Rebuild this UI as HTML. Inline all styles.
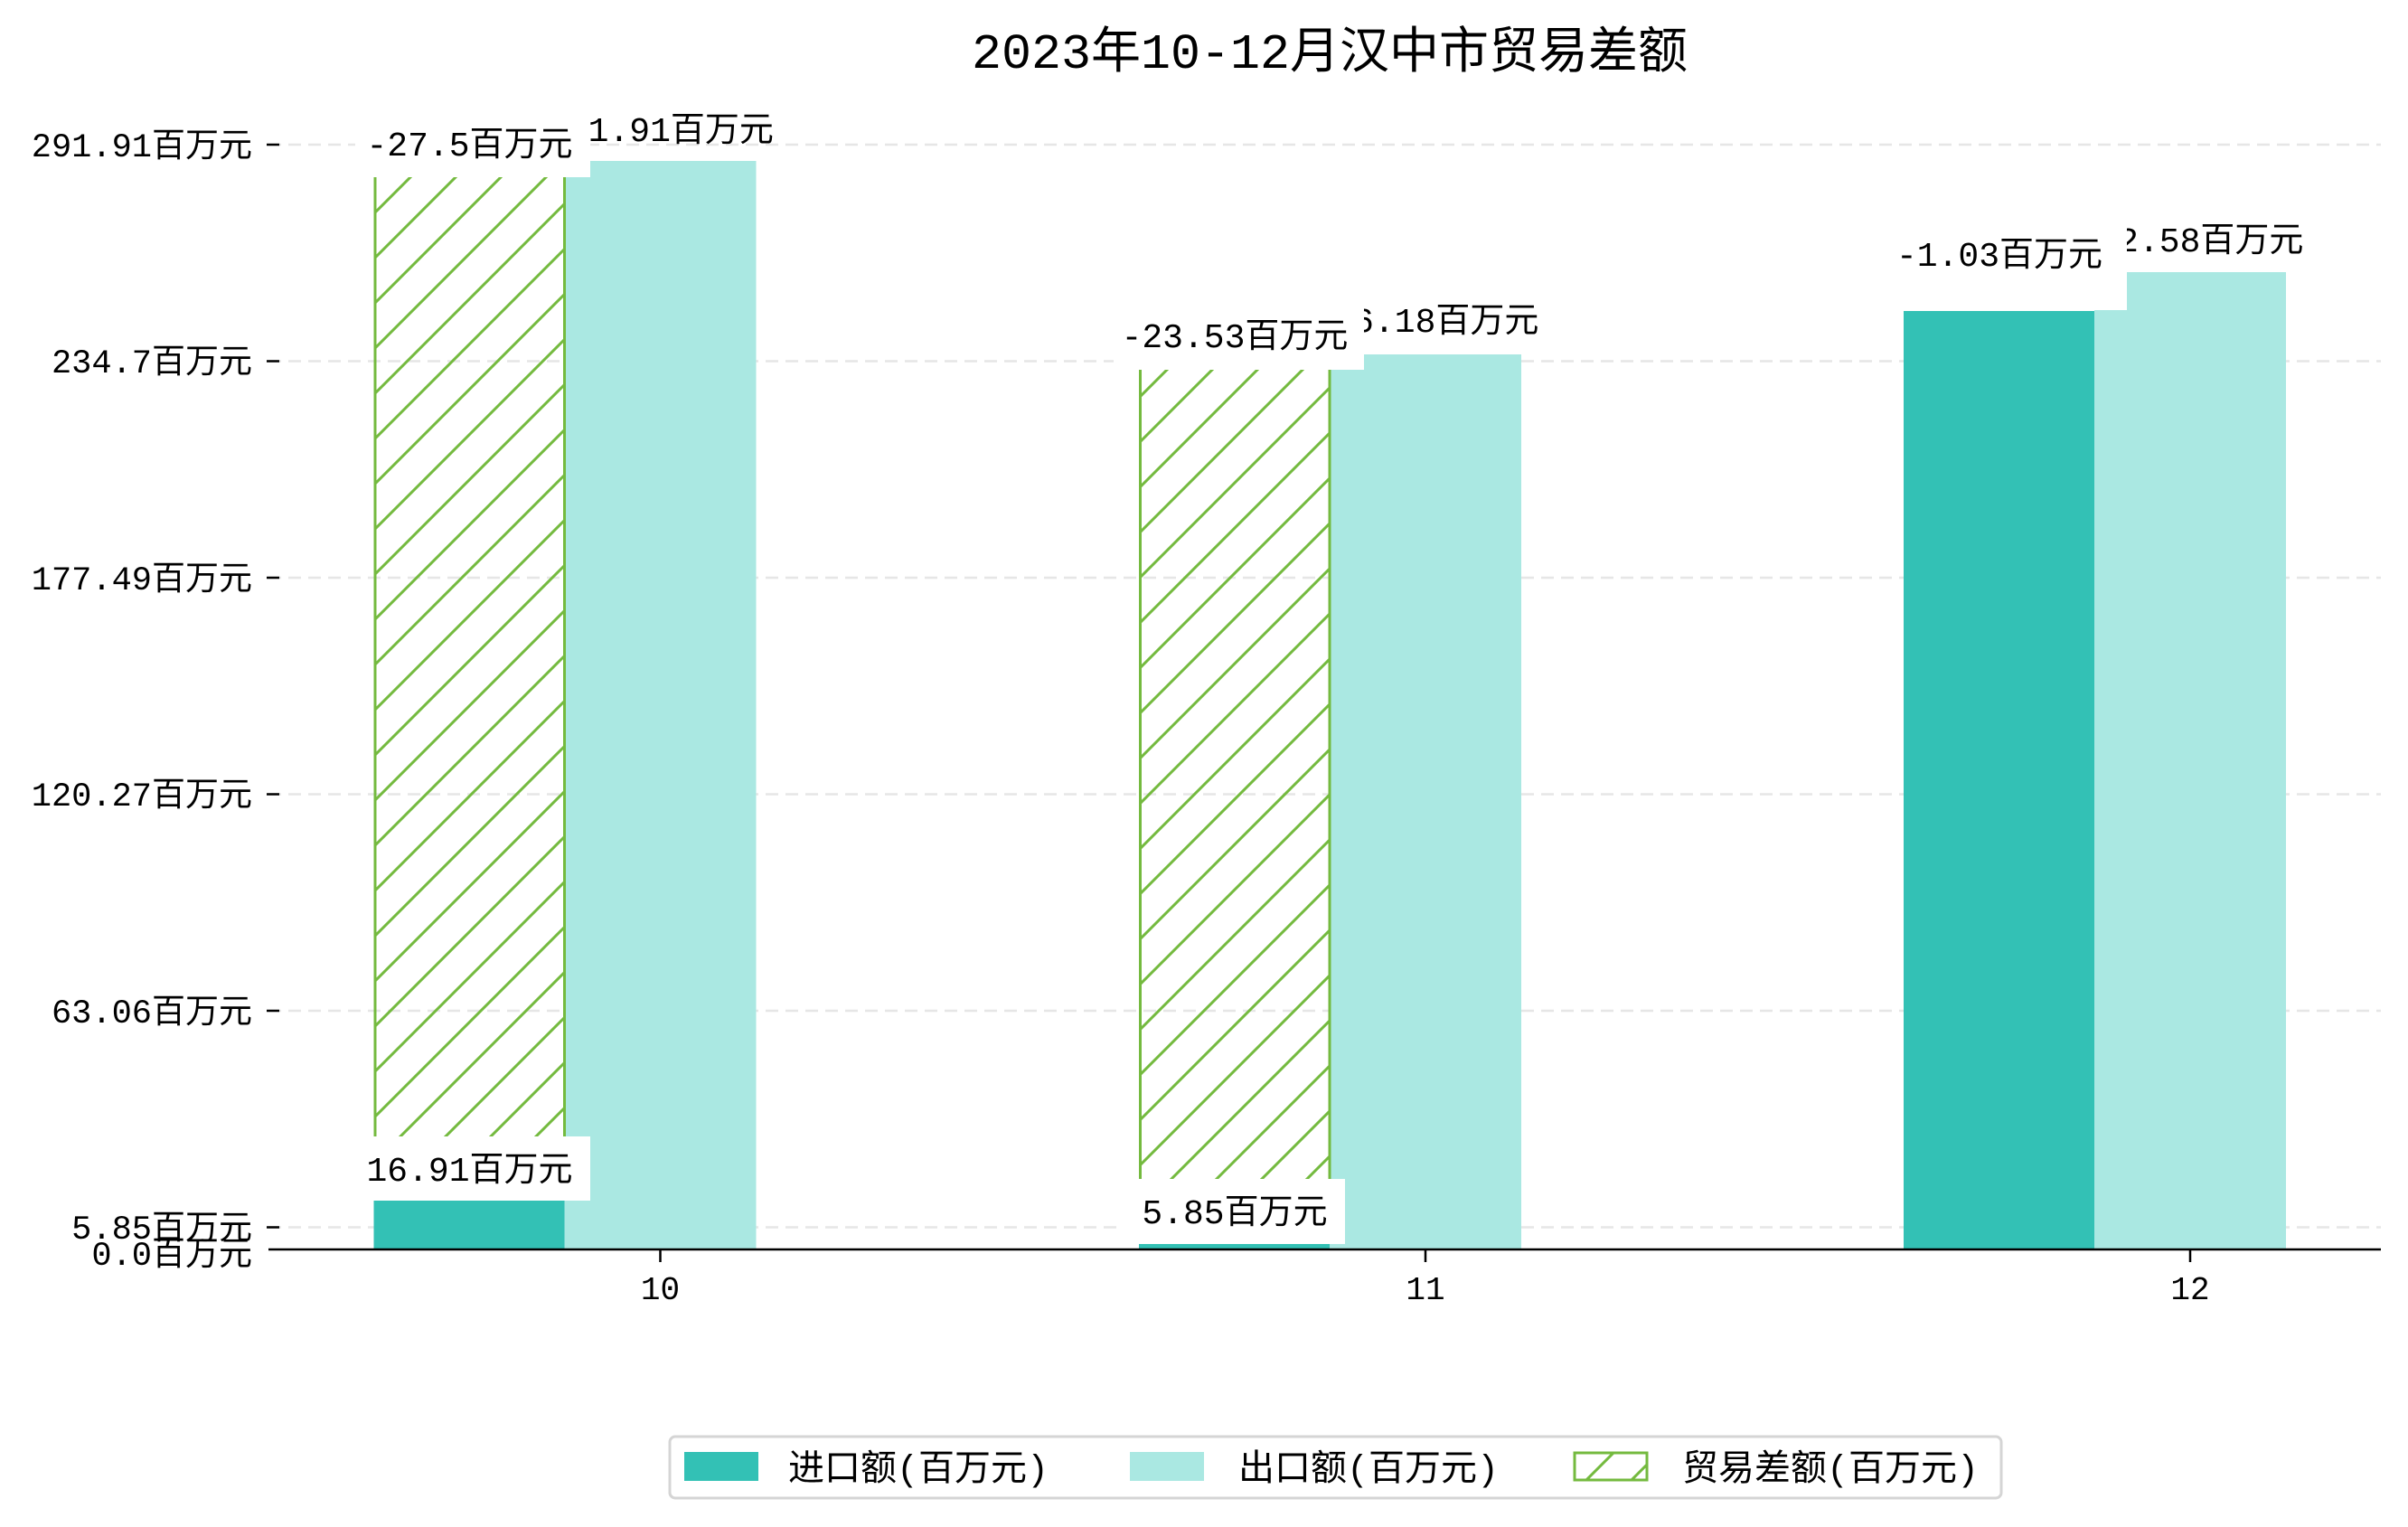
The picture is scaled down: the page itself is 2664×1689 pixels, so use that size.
<!DOCTYPE html>
<html><head><meta charset="utf-8"><style>
html,body{margin:0;padding:0;background:#fff;}
svg{display:block;}
text{font-family:"Liberation Mono","Noto Sans CJK SC",monospace;fill:#000;}
</style></head><body>
<svg width="2664" height="1689" viewBox="0 0 2664 1689" xmlns="http://www.w3.org/2000/svg">
<defs>
<pattern id="h" patternUnits="userSpaceOnUse" width="50" height="50">
<path d="M-5,5 L5,-5 M0,50 L50,0 M45,55 L55,45" stroke="#74ba3f" stroke-width="3"/>
</pattern>
</defs>
<text x="1471" y="75" font-size="55" text-anchor="middle">2023年10-12月汉中市贸易差额</text>

<g stroke="#e6e6e6" stroke-width="2.5" stroke-dasharray="14,8">
<line x1="297" x2="2634" y1="1357.5" y2="1357.5"/>
<line x1="297" x2="2634" y1="1118" y2="1118"/>
<line x1="297" x2="2634" y1="878.5" y2="878.5"/>
<line x1="297" x2="2634" y1="639" y2="639"/>
<line x1="297" x2="2634" y1="399.5" y2="399.5"/>
<line x1="297" x2="2634" y1="160" y2="160"/>
</g>

<!-- month 10 -->
<rect x="413.5" y="1311" width="211" height="71" fill="#33c1b5"/>
<rect x="624.5" y="178" width="212" height="1204" fill="#aae8e2"/>
<rect x="413.5" y="196" width="211" height="1115" fill="url(#h)"/>
<line x1="415" y1="196" x2="415" y2="1311" stroke="#74ba3f" stroke-width="3"/>
<line x1="624.5" y1="196" x2="624.5" y2="1311" stroke="#74ba3f" stroke-width="3"/>
<!-- month 11 -->
<rect x="1260" y="1357" width="211" height="25" fill="#33c1b5"/>
<rect x="1471" y="392" width="212" height="990" fill="#aae8e2"/>
<rect x="1260" y="409" width="211" height="948" fill="url(#h)"/>
<line x1="1261.5" y1="409" x2="1261.5" y2="1357" stroke="#74ba3f" stroke-width="3"/>
<line x1="1471" y1="409" x2="1471" y2="1357" stroke="#74ba3f" stroke-width="3"/>
<!-- month 12 -->
<rect x="2106" y="344" width="211" height="1038" fill="#33c1b5"/>
<rect x="2317" y="301" width="212" height="1081" fill="#aae8e2"/>

<g font-size="38" text-anchor="middle">
<rect x="393" y="1257" width="260" height="71" fill="#fff"/>
<text x="519.5" y="1306">16.91百万元</text>
<rect x="1239" y="1304" width="249" height="72" fill="#fff"/>
<text x="1366" y="1353">5.85百万元</text>
<text x="2212" y="321">262.24百万元</text>
<text x="730.5" y="156">291.91百万元</text>
<text x="1577" y="367">276.18百万元</text>
<text x="2423" y="278">262.58百万元</text>
<rect x="393" y="123" width="260" height="73" fill="#fff"/>
<text x="519.5" y="172">-27.5百万元</text>
<rect x="1232" y="335" width="277" height="74" fill="#fff"/>
<text x="1366" y="384">-23.53百万元</text>
<rect x="2082" y="244" width="271" height="99" fill="#fff"/>
<text x="2212" y="294">-1.03百万元</text>
</g>

<line x1="297" x2="2634" y1="1382" y2="1382" stroke="#000" stroke-width="2.5"/>
<g stroke="#000" stroke-width="2.5">
<line x1="295" x2="309" y1="1357.5" y2="1357.5"/>
<line x1="295" x2="309" y1="1118" y2="1118"/>
<line x1="295" x2="309" y1="878.5" y2="878.5"/>
<line x1="295" x2="309" y1="639" y2="639"/>
<line x1="295" x2="309" y1="399.5" y2="399.5"/>
<line x1="295" x2="309" y1="160" y2="160"/>
<line x1="730.5" x2="730.5" y1="1382" y2="1396"/>
<line x1="1577" x2="1577" y1="1382" y2="1396"/>
<line x1="2423" x2="2423" y1="1382" y2="1396"/>
</g>
<g font-size="37" text-anchor="end">
<text x="279" y="1399">0.0百万元</text>
<text x="279" y="1370">5.85百万元</text>
<text x="279" y="1131">63.06百万元</text>
<text x="279" y="891">120.27百万元</text>
<text x="279" y="652">177.49百万元</text>
<text x="279" y="412">234.7百万元</text>
<text x="279" y="173">291.91百万元</text>
</g>
<g font-size="36" text-anchor="middle">
<text x="730.5" y="1437">10</text>
<text x="1577" y="1437">11</text>
<text x="2423" y="1437">12</text>
</g>

<rect x="741" y="1597" width="1473" height="68" rx="6" fill="#fff" stroke="#d5d5d5" stroke-width="3" transform="translate(0,-8)"/>
<g transform="translate(0,-8)">
<rect x="757" y="1614" width="82" height="32" fill="#33c1b5"/>
<rect x="1250" y="1614" width="82" height="32" fill="#aae8e2"/>
<rect x="1742" y="1615" width="80" height="30" fill="url(#h)" stroke="#74ba3f" stroke-width="3"/>
<g font-size="40">
<text x="872" y="1645">进口额(百万元)</text>
<text x="1370" y="1645">出口额(百万元)</text>
<text x="1861" y="1645">贸易差额(百万元)</text>
</g>
</g>
</svg>
</body></html>
